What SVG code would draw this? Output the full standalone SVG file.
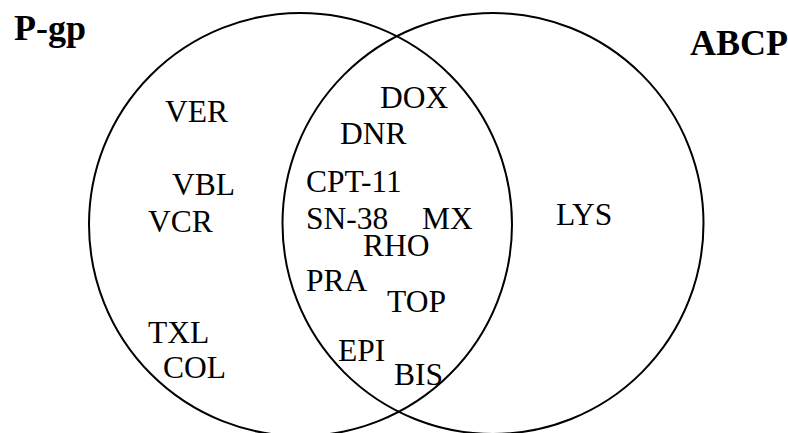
<svg xmlns="http://www.w3.org/2000/svg" width="788" height="433" viewBox="0 0 788 433">
  <style>
    .set { fill: none; stroke: #000; stroke-width: 2; }
    .lbl { font-family: "Liberation Serif", "Noto Serif", "DejaVu Serif", "Times New Roman", serif; font-size: 31.5px; fill: #000; }
    .title { font-family: "Liberation Serif", "Noto Serif", "DejaVu Serif", "Times New Roman", serif; font-size: 36px; font-weight: bold; fill: #000; }
  </style>
  <rect width="788" height="433" fill="#fff"/>

  <!-- set outlines -->
  <g id="set-pgp">
    <circle class="set" cx="300.5" cy="224.5" r="211.5"/>
    <text class="title" x="14" y="40">P-gp</text>
  </g>
  <g id="set-abcp">
    <circle class="set" cx="493" cy="223.5" r="210.5"/>
    <text class="title" x="690" y="55">ABCP</text>
  </g>

  <!-- P-gp only -->
  <g id="pgp-only">
    <text class="lbl" x="165" y="122">VER</text>
    <text class="lbl" x="172" y="195">VBL</text>
    <text class="lbl" x="148" y="232">VCR</text>
    <text class="lbl" x="148" y="343">TXL</text>
    <text class="lbl" x="163" y="378">COL</text>
  </g>

  <!-- shared substrates -->
  <g id="both">
    <text class="lbl" x="380" y="108">DOX</text>
    <text class="lbl" x="340" y="144">DNR</text>
    <text class="lbl" x="306" y="192">CPT-11</text>
    <text class="lbl" x="306" y="229">SN-38</text>
    <text class="lbl" x="422" y="229">MX</text>
    <text class="lbl" x="363" y="256">RHO</text>
    <text class="lbl" x="306" y="291">PRA</text>
    <text class="lbl" x="387" y="312">TOP</text>
    <text class="lbl" x="338" y="361">EPI</text>
    <text class="lbl" x="394" y="385">BIS</text>
  </g>

  <!-- ABCP only -->
  <g id="abcp-only">
    <text class="lbl" x="556" y="225">LYS</text>
  </g>
</svg>
